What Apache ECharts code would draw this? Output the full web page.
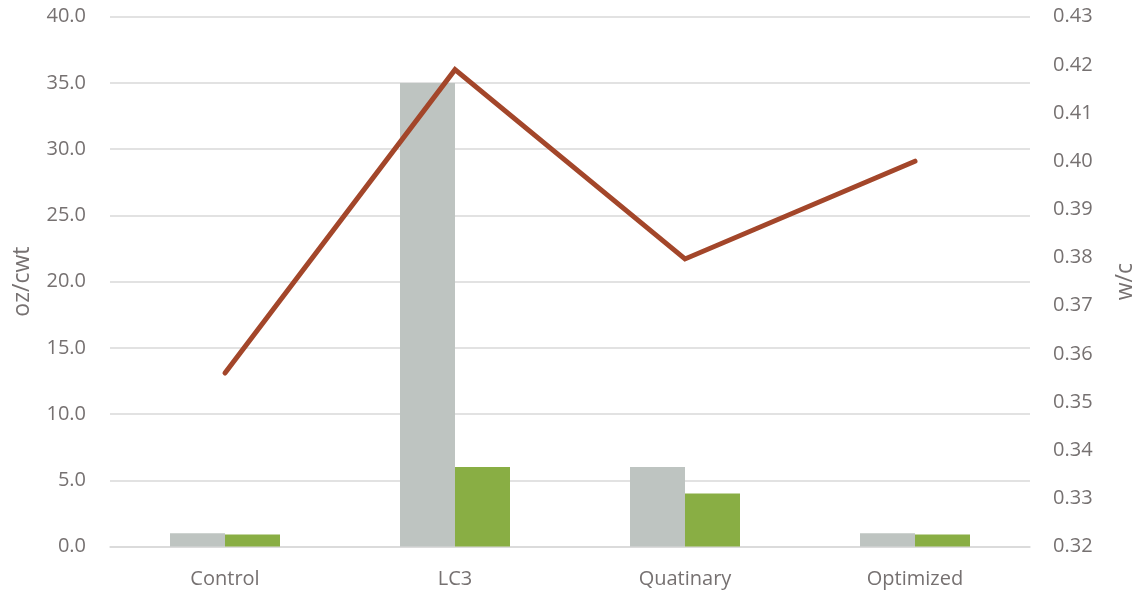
<!DOCTYPE html>
<html><head><meta charset="utf-8">
<script src="https://cdn.jsdelivr.net/npm/echarts@6/dist/echarts.min.js"></script>
<style>html,body{margin:0;padding:0;background:#fff}#c{width:1135px;height:593px}</style>
</head><body><div id="c"></div>
<script>
const categories = ['Control', 'LC3', 'Quatinary', 'Optimized'];
const greyValues = [1.0, 35.0, 6.0, 1.0];
const greenValues = [0.9, 6.0, 4.0, 0.9];
const wcValues = [0.356, 0.419, 0.3797, 0.400];
const leftTicks = {min: 0, max: 40, interval: 5};
const rightTicks = {min: 0.32, max: 0.43, interval: 0.01};

const txt = '#767171';
const font = 'Open Sans';
const chart = echarts.init(document.getElementById('c'), null, {renderer: 'canvas'});
chart.setOption({
  animation: false,
  grid: {left: 110, right: 105, top: 16.7, bottom: 46.5, containLabel: false, outerBoundsMode: 'none'},
  xAxis: {
    type: 'category', data: categories,
    axisLine: {lineStyle: {color: '#d9d9d9', width: 1.5}},
    axisTick: {show: false},
    axisLabel: {color: txt, fontFamily: font, fontSize: 20, margin: 23}
  },
  yAxis: [{
    type: 'value', min: leftTicks.min, max: leftTicks.max, interval: leftTicks.interval,
    name: 'oz/cwt', nameLocation: 'middle', nameGap: 76, nameRotate: 90,
    nameTextStyle: {color: txt, fontFamily: font, fontSize: 23},
    axisLine: {show: false}, axisTick: {show: false},
    axisLabel: {color: txt, fontFamily: font, fontSize: 20, margin: 24, formatter: v => v.toFixed(1)},
    splitLine: {lineStyle: {color: '#d9d9d9', width: 1.5}}
  }, {
    type: 'value', min: rightTicks.min, max: rightTicks.max, interval: rightTicks.interval,
    name: 'w/c', nameLocation: 'middle', nameGap: 84, nameRotate: 90,
    nameTextStyle: {color: txt, fontFamily: font, fontSize: 23},
    axisLine: {show: false}, axisTick: {show: false},
    axisLabel: {color: txt, fontFamily: font, fontSize: 20, margin: 23, formatter: v => v.toFixed(2)},
    splitLine: {show: false}
  }],
  series: [{
    type: 'bar', data: greyValues, barWidth: 55, barGap: '0%',
    itemStyle: {color: '#bec4c1'}
  }, {
    type: 'bar', data: greenValues, barWidth: 55,
    itemStyle: {color: '#89ae44'}
  }, {
    type: 'line', yAxisIndex: 1, data: wcValues, symbol: 'none',
    lineStyle: {color: '#a3462a', width: 5, cap: 'round', join: 'miter'}
  }]
});
</script></body></html>
